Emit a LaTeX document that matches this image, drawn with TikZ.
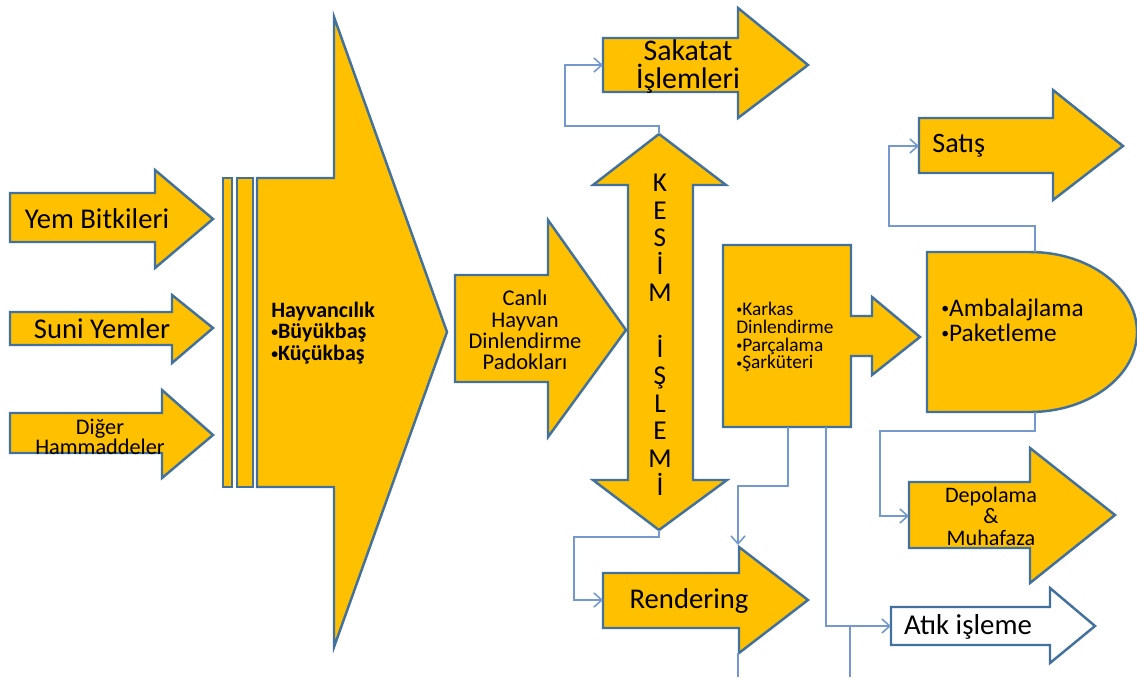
\documentclass[tikz,border=0pt]{standalone}
\usepackage{fontspec}
\setmainfont{Carlito}
\usetikzlibrary{arrows.meta}
\definecolor{gold}{HTML}{FFC000}
\definecolor{edge}{HTML}{41719C}
\definecolor{link}{HTML}{7399CF}
\newcommand{\fs}[2]{\fontsize{#1}{#2}\selectfont}
\newcommand{\bul}{\raisebox{0.1em}{\scalebox{0.62}{•}}}
\tikzset{
  blk/.style={draw=edge, fill=gold, line width=1.4pt, line join=miter},
  wblk/.style={blk, fill=white},
  conn/.style={draw=link, line width=0.9pt, -{Straight Barb[length=4.5pt,width=8pt]}},
  plainline/.style={draw=link, line width=0.9pt},
  lbl/.style={inner sep=0pt, align=center, text=black},
  lbll/.style={inner sep=0pt, align=left, text=black},
}
\begin{document}
\begin{tikzpicture}[x=0.02cm, y=-0.02cm]
\useasboundingbox (0,0) rectangle (1137,677);

% input arrows
\draw[blk] (10,193) -- (155,193) -- (155,170) -- (213,219) -- (155,268) -- (155,242) -- (10,242) -- cycle;
\draw[blk] (10,312) -- (172,312) -- (172,295) -- (213,328) -- (172,363) -- (172,345) -- (10,345) -- cycle;
\draw[blk] (10,413) -- (162,413) -- (162,390) -- (213,435) -- (162,478) -- (162,453) -- (10,453) -- cycle;
\node[lbl, font=\fs{16.3}{19}] (yem) at (97,219) {Yem Bitkileri};
\node[lbl, font=\fs{16.3}{19}] (suni) at (102,329) {Suni Yemler};
\node[lbl, font=\fs{12.7}{11.6}] (diger) at (100,437) {Diğer\\Hammaddeler};

% bars
\draw[blk] (223,178) rectangle (232,487);
\draw[blk] (237,178) rectangle (253,487);

% Hayvancilik
\draw[blk] (257,178) -- (334,178) -- (334,17) -- (447,332) -- (334,647) -- (334,487) -- (257,487) -- cycle;
\node[lbll, font=\bfseries\fs{12.5}{12.3}, anchor=west] (hay) at (271,333) {Hayvancılık\\\bul Büyükbaş\\\bul Küçükbaş};

% Canli hayvan
\draw[blk] (455,275) -- (548,275) -- (548,220) -- (626,330) -- (548,437) -- (548,382) -- (455,382) -- cycle;
\node[lbl, font=\fs{12.8}{12.2}] (canli) at (525,330) {Canlı\\Hayvan\\Dinlendirme\\Padokları};

% Kesim double arrow
\draw[blk] (628,185) -- (593,185) -- (659,134) coordinate (kesTop) -- (726,185) -- (693,185) -- (693,480) -- (727,480) -- (659,530) coordinate (kesBot) -- (593,480) -- (628,480) -- cycle;
\foreach \l [count=\i] in {K,E,S,İ,M,{},İ,Ş,L,E,M,İ}
  \node[lbl, font=\fs{15.5}{16}, anchor=base] (kes\i) at (660,{183+(\i-1)*27.6+8.5}) {\l};

% Sakatat
\draw[blk] (603,38) -- (738,38) -- (738,8) -- (808,65) -- (738,118) -- (738,92) -- (603,92) -- cycle;
\coordinate (sakL) at (603,65);
\node[lbl, font=\fs{17}{16}] (sak) at (688,67) {Sakatat\\İşlemleri};

% Karkas
\draw[blk] (723,245) -- (851,245) -- (851,316) -- (872,316) -- (872,297) -- (920,337) -- (872,375) -- (872,356) -- (851,356) -- (851,427) -- (723,427) -- cycle;
\coordinate (karB1) at (788,427);
\coordinate (karB2) at (826,427);
\node[lbll, font=\fs{11}{10.2}, anchor=west] (kar) at (736,337) {\bul Karkas\\Dinlendirme\\\bul Parçalama\\\bul Şarküteri};

% Ambalajlama D shape
\draw[blk] (927,252) -- (1030,252) .. controls (1089,252) and (1137,288) .. (1137,332) .. controls (1137,376) and (1089,412) .. (1030,412) -- (927,412) -- cycle;
\coordinate (ambT) at (1035,252);
\coordinate (ambB) at (1035,412);
\node[lbll, font=\fs{14.4}{14.2}, anchor=west] (amb) at (941,320) {\bul Ambalajlama\\\bul Paketleme};

% Satis
\draw[blk] (919,118) -- (1053,118) -- (1053,90) -- (1123,146) -- (1053,200) -- (1053,173) -- (919,173) -- cycle;
\coordinate (satL) at (919,146);
\node[lbll, font=\fs{16}{18}, anchor=west] (sat) at (932,146) {Satış};

% Depolama
\draw[blk] (909,482) -- (1030,482) -- (1030,448) -- (1115,515) -- (1030,583) -- (1030,548) -- (909,548) -- cycle;
\coordinate (depL) at (909,516);
\node[lbl, font=\fs{12.6}{12.2}] (dep) at (991,516) {Depolama\\\&\\Muhafaza};

% Rendering
\draw[blk] (603,573) -- (739,573) -- (739,547) coordinate (renH) -- (808,600) -- (739,653) coordinate (renB) -- (739,628) -- (603,628) -- cycle;
\coordinate (renL) at (603,600);
\node[lbl, font=\fs{16.3}{19}] (ren) at (689,601) {Rendering};

% Atik isleme
\draw[wblk] (891,607) -- (1050,607) -- (1050,588) -- (1095,626) -- (1050,663) -- (1050,645) -- (891,645) -- cycle;
\coordinate (atkL) at (891,626);
\node[lbl, font=\fs{16.4}{19}] (atk) at (968,627) {Atık işleme};

% connectors
\draw[conn] (kesTop) |- (565,126) |- (sakL);
\draw[conn] (kesBot) |- (574,537) |- (renL);
\draw[conn] (karB1) |- (738,486) -- (738,545);
\draw[conn] (karB2) |- (atkL);
\draw[conn] (ambT) |- (889,226) |- (satL);
\draw[conn] (ambB) |- (880,431) |- (depL);
\coordinate (bot1) at (738,677);
\coordinate (jn) at (850,626);
\coordinate (bot2) at (850,677);
\draw[plainline] (738,653) -- (bot1);
\draw[plainline] (jn) -- (bot2);
\end{tikzpicture}
\end{document}
